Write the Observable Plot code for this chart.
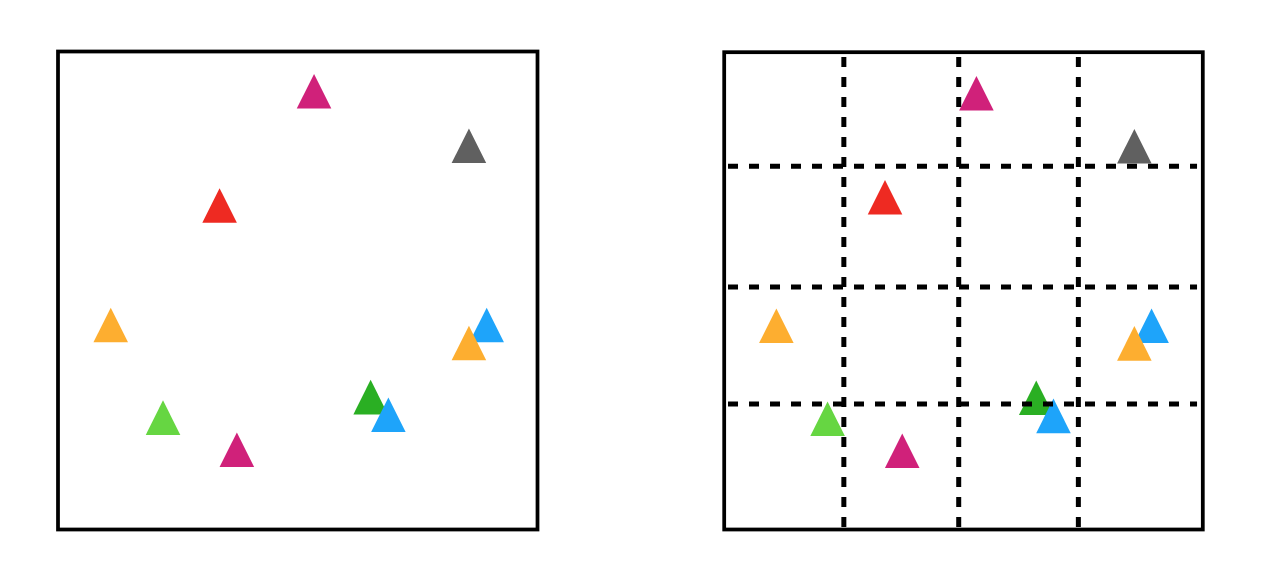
<!DOCTYPE html>
<html>
<head>
<meta charset="utf-8">
<script src="https://cdn.jsdelivr.net/npm/d3@7"></script>
<script src="https://cdn.jsdelivr.net/npm/@observablehq/plot@0.6"></script>
<style>
  html, body { margin: 0; padding: 0; background: #fff; }
  #wrap { position: relative; width: 1264px; height: 584px; overflow: hidden; }
  #left, #right { position: absolute; top: 0; }
  #left { left: 0; }
  #right { left: 664px; }
</style>
</head>
<body>
<div id="wrap"><div id="left"></div><div id="right"></div></div>
<script>
// Point identities (drawing order matters for overlaps)
const names  = ["magentaTop", "gray", "red", "orangeLeft", "blueRight", "orangeRight", "darkGreen", "blueLow", "lightGreen", "magentaBottom"];
const colors = ["#d0217a", "#606060", "#ee2a22", "#fdae30", "#1ea4fa", "#fdae30", "#2aaf23", "#1ea4fa", "#66d642", "#d0217a"];

// Left panel values
const leftX = [53.4, 85.7, 33.7, 11.0, 89.4, 85.7, 65.2, 68.9, 21.9, 37.3];
const leftY = [91.7, 80.3, 67.8, 42.8, 42.8, 39.0, 27.7, 24.0, 23.4, 16.7];

// Right panel values
const rightX = [52.7, 85.7, 33.6, 10.9, 89.3, 85.7, 65.2, 68.8, 21.6, 37.2];
const rightY = [91.4, 80.3, 69.6, 42.7, 42.7, 39.0, 27.6, 23.8, 23.2, 16.5];

// Grid positions of right panel
const gridX = [25, 49, 74];
const gridY = [26.3, 50.8, 76.1];

const tri = {
  draw(ctx, size) {
    const h = Math.sqrt(size);
    ctx.moveTo(0, -h / 2);
    ctx.lineTo(h / 2, h / 2);
    ctx.lineTo(-h / 2, h / 2);
    ctx.closePath();
  }
};

function rows(xs, ys) {
  return names.map((n, i) => ({name: n, x: xs[i], y: ys[i], color: colors[i]}));
}

function panel(data, m, grid) {
  const marks = [];
  marks.push(Plot.dot(data, {x: "x", y: "y", fill: "color", symbol: tri, r: 19.5, stroke: "none"}));
  if (grid) {
    marks.push(Plot.ruleX(gridX, {y1: 98.9, y2: 0, stroke: "#000", strokeWidth: 5, strokeDasharray: "10,10"}));
    marks.push(Plot.ruleY(gridY, {x1: 0.9, x2: 98.9, stroke: "#000", strokeWidth: 5, strokeDasharray: "10,11"}));
  }
  marks.push(Plot.frame({stroke: "#000", strokeWidth: 3.75}));
  return Plot.plot({
    width: 600,
    height: 584,
    marginLeft: m[0], marginRight: m[1], marginTop: m[2], marginBottom: m[3],
    x: {domain: [0, 100], axis: null},
    y: {domain: [0, 100], axis: null},
    color: {type: "identity"},
    style: {background: "#fff", overflow: "visible"},
    marks
  });
}

document.getElementById("left").appendChild(panel(rows(leftX, leftY), [57.5, 63, 51, 55], false));
document.getElementById("right").appendChild(panel(rows(rightX, rightY), [59.7, 61.7, 51.7, 55], true));
</script>
</body>
</html>
